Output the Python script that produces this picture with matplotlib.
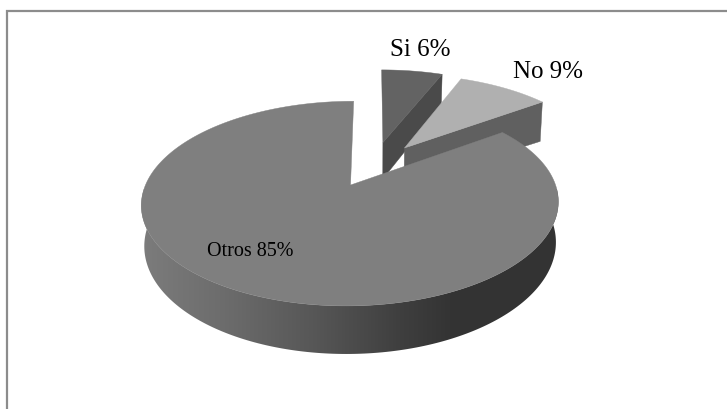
import numpy as np
import matplotlib
matplotlib.use("Agg")
import matplotlib.pyplot as plt
from matplotlib.patches import Polygon
from matplotlib.colors import LinearSegmentedColormap

labels = ["Si", "No", "Otros"]
values = [6, 9, 85]
explode = [0.25, 0.26, 0.22]
top_colors = ["#636363", "#b0b0b0", "#7f7f7f"]
radial_colors = ["#4a4a4a", "#606060", "#555555"]
nudges = [(3, -2), (3, 0), (0, 0)]
far_wall_extra = [0, 6, 0]

X0, Y0, A, B, T, K = 371, 167.3, 198, 92.3, 38, 0.175
BOTTOM_SCALE = 0.987


def project(u, v, z=1.0):
    D = 1 + K * v
    s = BOTTOM_SCALE + (1 - BOTTOM_SCALE) * z
    return X0 + s * A * u / D, Y0 - B * v / D + T * (1 - z) / D


def rim(t0, t1, e, mid, n=300):
    th = np.linspace(t0, t1, n)
    return np.sin(th) + e * np.sin(mid), np.cos(th) + e * np.cos(mid)


wall_cmap = LinearSegmentedColormap.from_list(
    "wall",
    [(0.0, "#7c7c7c"), (0.2, "#6c6c6c"), (0.42, "#565656"), (0.62, "#3f3f3f"),
     (0.74, "#343434"), (1.0, "#333333")],
)

fig = plt.figure(figsize=(7.27, 4.10), dpi=100)
ax = fig.add_axes([0, 0, 1, 1])
ax.axis("off")

ax.plot([7, 7, 727], [410, 12, 12], color="#8c8c8c", lw=1.6, solid_joinstyle="miter")

frac = np.array(values) / sum(values)
edges = np.concatenate([[0], np.cumsum(frac)]) * 2 * np.pi

for i in range(len(values)):
    t0, t1 = edges[i], edges[i + 1]
    mid = (t0 + t1) / 2
    e = explode[i]
    dx, dy = nudges[i]
    cu, cv = e * np.sin(mid), e * np.cos(mid)
    ru, rv = rim(t0, t1, e, mid)

    if i < 2:
        # closing radial wall of the small slices
        xt, yt = project(np.array([cu, ru[-1]]), np.array([cv, rv[-1]]), 1)
        xb, yb = project(np.array([cu, ru[-1]]), np.array([cv, rv[-1]]), 0)
        ax.fill([xt[0] + dx, xt[1] + dx, xb[1] + dx, xb[0] + dx],
                [yt[0] + dy, yt[1] + dy, yb[1] + dy + far_wall_extra[i], yb[0] + dy],
                color=radial_colors[i], lw=0.3, zorder=2 + i)
    else:
        # outer wall of the big slice, filled with a horizontal gradient
        th = np.linspace(t0, t1, len(ru))
        front = np.cos(th) < 0.25
        xt, yt = project(ru[front], rv[front], 1)
        xb, yb = project(ru[front], rv[front], 0)
        poly = Polygon(np.c_[np.r_[xt, xb[::-1]] + dx, np.r_[yt, yb[::-1]] + dy],
                       closed=True, transform=ax.transData, fc="none", ec="none")
        ax.add_patch(poly)
        img = ax.imshow(np.linspace(0, 1, 512)[None, :], cmap=wall_cmap, aspect="auto",
                        extent=[141, 559, 360, 190], zorder=2 + i, interpolation="bilinear")
        img.set_clip_path(poly)

    xs, ys = project(np.r_[cu, ru], np.r_[cv, rv], 1)
    ax.fill(xs + dx, ys + dy, color=top_colors[i], lw=0.3, zorder=2.5 + i)

ax.set_xlim(0, 727)
ax.set_ylim(410, 0)

serif = "Liberation Serif"
ax.text(420, 50, f"{labels[0]} {values[0]}%", family=serif, fontsize=18, ha="center", va="center", color="black", zorder=9)
ax.text(548, 72, f"{labels[1]} {values[1]}%", family=serif, fontsize=18, ha="center", va="center", color="black", zorder=9)
ax.text(250, 252, f"{labels[2]} {values[2]}%", family=serif, fontsize=14.5, ha="center", va="center", color="black", zorder=9)

fig.savefig("out.png", dpi=100)
